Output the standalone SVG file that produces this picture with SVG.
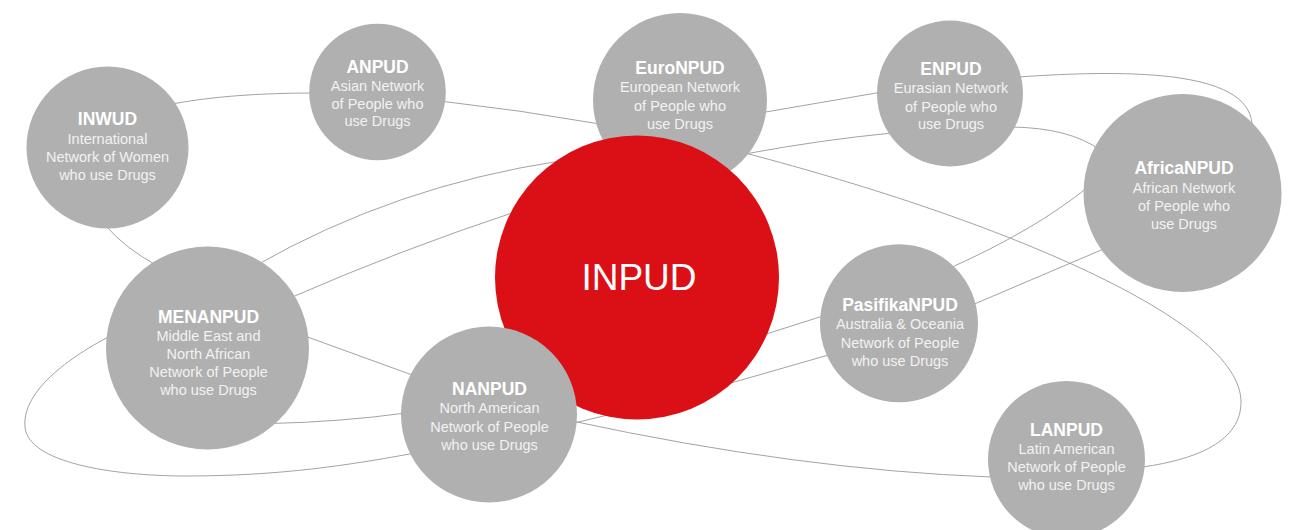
<svg xmlns="http://www.w3.org/2000/svg" width="1293" height="530" viewBox="0 0 1293 530">
<style>
.bg{fill:#ffffff}
.link{fill:none;stroke:#a3a3a3;stroke-width:1}
.n{fill:#b0b0b0}
.hub{fill:#db0f16}
.t{font-family:"Liberation Sans",Arial,sans-serif;font-weight:bold;font-size:17.5px;fill:#ffffff;text-anchor:middle}
.d{font-family:"Liberation Sans",Arial,sans-serif;font-size:14.5px;fill:#f2f2f2;text-anchor:middle}
.big{font-family:"Liberation Sans",Arial,sans-serif;font-size:37px;fill:#ffffff;text-anchor:middle}
</style>
<rect class="bg" x="0" y="0" width="1293" height="530"/>
<g id="connectors">
<path class="link" d="M172,104 Q230,93 314,93"/>
<path class="link" d="M440,101 Q520,110 600,124"/>
<path class="link" d="M760,113 L882,92"/>
<path class="link" d="M255,266 Q395,186 560,161"/>
<path class="link" d="M290,298 Q400,250 512,213"/>
<path class="link" d="M106,226 Q125,248 156,265"/>
<path class="link" d="M745,154 Q820,140 892,133"/>
<path class="link" d="M745,153 C1000,220 1241,320 1241,402 C1241,440 1200,460 1135,468"/>
<path class="link" d="M1018,77 C1120,70 1250,68 1252,125"/>
<path class="link" d="M1012,127 Q1070,128 1100,150"/>
<path class="link" d="M1088,187 Q1035,230 950,268"/>
<path class="link" d="M1106,248 L972,305"/>
<path class="link" d="M826,315 L760,336"/>
<path class="link" d="M832,354 L724,385"/>
<path class="link" d="M570,424 L612,414"/>
<path class="link" d="M572,421 Q800,470 992,477"/>
<path class="link" d="M302,335 L415,376"/>
<path class="link" d="M270,423.5 Q340,422 406,413"/>
<path class="link" d="M112,335 C60,362 22,395 25,427 C28,462 110,476 187,476 C280,476 350,465 415,453"/>
</g>
<g id="INWUD">
<circle class="n" cx="107.5" cy="147.5" r="81"/>
<text class="t" x="107.5" y="124.5">INWUD</text>
<text class="d" x="107.5" y="144">International</text>
<text class="d" x="107.5" y="162">Network of Women</text>
<text class="d" x="107.5" y="180">who use Drugs</text>
</g>
<g id="ANPUD">
<circle class="n" cx="377.5" cy="92" r="68.3"/>
<text class="t" x="377.5" y="72.7">ANPUD</text>
<text class="d" x="377.5" y="90.7">Asian Network</text>
<text class="d" x="377.5" y="108.5">of People who</text>
<text class="d" x="377.5" y="126.2">use Drugs</text>
</g>
<g id="EuroNPUD">
<circle class="n" cx="680" cy="100" r="87"/>
<text class="t" x="680" y="73.7">EuroNPUD</text>
<text class="d" x="680" y="92.3">European Network</text>
<text class="d" x="680" y="110.5">of People who</text>
<text class="d" x="680" y="128.7">use Drugs</text>
</g>
<g id="ENPUD">
<circle class="n" cx="950" cy="93.5" r="73"/>
<text class="t" x="951" y="75">ENPUD</text>
<text class="d" x="951" y="93.3">Eurasian Network</text>
<text class="d" x="951" y="111.5">of People who</text>
<text class="d" x="951" y="129.3">use Drugs</text>
</g>
<g id="AfricaNPUD">
<circle class="n" cx="1182.5" cy="193" r="99"/>
<text class="t" x="1184" y="174.3">AfricaNPUD</text>
<text class="d" x="1184" y="192.7">African Network</text>
<text class="d" x="1184" y="211">of People who</text>
<text class="d" x="1184" y="229">use Drugs</text>
</g>
<g id="INPUD">
<circle class="hub" cx="637" cy="277.5" r="142"/>
<text class="big" x="639" y="290">INPUD</text>
</g>
<g id="MENANPUD">
<circle class="n" cx="207.5" cy="348" r="101.5"/>
<text class="t" x="208.5" y="322.7">MENANPUD</text>
<text class="d" x="208.5" y="340.7">Middle East and</text>
<text class="d" x="208.5" y="358.5">North African</text>
<text class="d" x="208.5" y="376.7">Network of People</text>
<text class="d" x="208.5" y="394.8">who use Drugs</text>
</g>
<g id="NANPUD">
<circle class="n" cx="489" cy="414.5" r="88"/>
<text class="t" x="489.5" y="395.3">NANPUD</text>
<text class="d" x="489.5" y="413.3">North American</text>
<text class="d" x="489.5" y="431.5">Network of People</text>
<text class="d" x="489.5" y="449.5">who use Drugs</text>
</g>
<g id="PasifikaNPUD">
<circle class="n" cx="899" cy="323.3" r="79"/>
<text class="t" x="900" y="311">PasifikaNPUD</text>
<text class="d" x="900" y="329.3">Australia &amp; Oceania</text>
<text class="d" x="900" y="347.5">Network of People</text>
<text class="d" x="900" y="365.7">who use Drugs</text>
</g>
<g id="LANPUD">
<circle class="n" cx="1066.5" cy="459.5" r="78.5"/>
<text class="t" x="1066.5" y="436">LANPUD</text>
<text class="d" x="1066.5" y="454.3">Latin American</text>
<text class="d" x="1066.5" y="472.3">Network of People</text>
<text class="d" x="1066.5" y="490.3">who use Drugs</text>
</g>
</svg>
